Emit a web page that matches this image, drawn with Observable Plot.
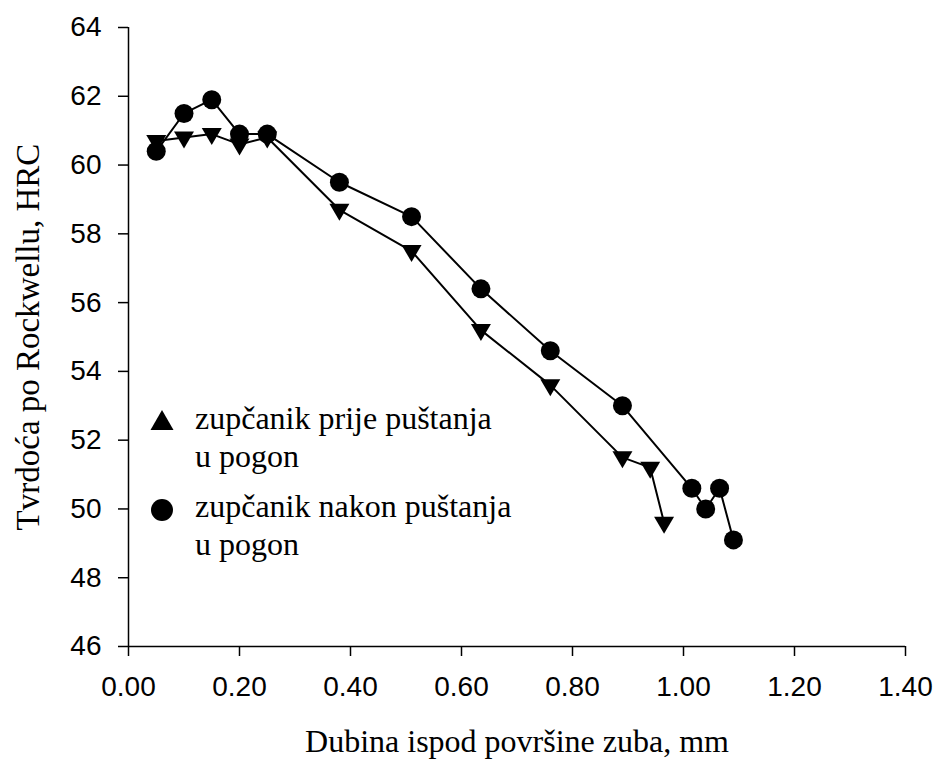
<!DOCTYPE html>
<html>
<head>
<meta charset="utf-8">
<script src="https://cdn.jsdelivr.net/npm/d3@7"></script>
<script src="https://cdn.jsdelivr.net/npm/@observablehq/plot@0.6"></script>
<style>
  html, body { margin: 0; padding: 0; background: #fff; }
  #wrap { position: relative; width: 933px; height: 762px; }
  .leg { position: absolute; font-family: "Liberation Serif", "Times New Roman", serif; font-size: 32px; line-height: 38px; color: #000; white-space: nowrap; }
  .sym { position: absolute; }
</style>
</head>
<body>
<div id="wrap"></div>
<script>
// Depth below tooth surface, mm (x) and Rockwell hardness, HRC (y)
const depthBefore = [0.05, 0.10, 0.15, 0.20, 0.25, 0.38, 0.51, 0.635, 0.76, 0.89, 0.94, 0.965];
const hrcBefore   = [60.7, 60.8, 60.9, 60.6, 60.8, 58.7, 57.5, 55.2, 53.6, 51.5, 51.2, 49.6];

const depthAfter = [0.05, 0.10, 0.15, 0.20, 0.25, 0.38, 0.51, 0.635, 0.76, 0.89, 1.015, 1.04, 1.065, 1.09];
const hrcAfter   = [60.4, 61.5, 61.9, 60.9, 60.9, 59.5, 58.5, 56.4, 54.6, 53.0, 50.6, 50.0, 50.6, 49.1];

const xTicks = [0, 0.2, 0.4, 0.6, 0.8, 1.0, 1.2, 1.4];
const yTicks = [46, 48, 50, 52, 54, 56, 58, 60, 62, 64];

const seriesNames = ["zupčanik prije puštanja u pogon", "zupčanik nakon puštanja u pogon"];
const xLabel = "Dubina ispod površine zuba, mm";
const yLabel = "Tvrdoća po Rockwellu, HRC";

const before = depthBefore.map((d, i) => ({x: d, y: hrcBefore[i]}));
const after = depthAfter.map((d, i) => ({x: d, y: hrcAfter[i]}));

// downward-pointing triangle symbol
const triangleDown = {
  draw(context, size) {
    const r = Math.sqrt(size / Math.PI);
    context.moveTo(-r, -0.6 * r);
    context.lineTo(r, -0.6 * r);
    context.lineTo(0, 1.1 * r);
    context.closePath();
  }
};

const serif = "'Liberation Serif', 'Times New Roman', serif";

const chart = Plot.plot({
  width: 933,
  height: 762,
  marginLeft: 128,
  marginRight: 28,
  marginTop: 27,
  marginBottom: 116,
  style: {fontFamily: "'Liberation Sans', Arial, sans-serif", fontSize: "28px", background: "#fff", color: "#000", overflow: "visible"},
  x: {domain: [0, 1.4]},
  y: {domain: [46, 64]},
  marks: [
    Plot.axisX({ticks: xTicks, tickFormat: d3.format(".2f"), tickSize: 10, tickPadding: 20, label: null, stroke: "#000", strokeWidth: 1.5}),
    Plot.axisY({ticks: yTicks, tickFormat: d3.format("d"), tickSize: 10, tickPadding: 17, label: null, stroke: "#000", strokeWidth: 1.5}),
    Plot.ruleX([0], {stroke: "#000", strokeWidth: 1.5}),
    Plot.ruleY([46], {stroke: "#000", strokeWidth: 1.5}),
    Plot.line(before, {x: "x", y: "y", stroke: "#000", strokeWidth: 2}),
    Plot.line(after, {x: "x", y: "y", stroke: "#000", strokeWidth: 2}),
    Plot.dot(before, {x: "x", y: "y", symbol: triangleDown, r: 10, fill: "#000", stroke: "none"}),
    Plot.dot(after, {x: "x", y: "y", symbol: "circle", r: 9.5, fill: "#000", stroke: "none"}),
    Plot.text([xLabel], {frameAnchor: "bottom", lineAnchor: "bottom", dy: 105, fontFamily: serif, fontSize: 32, fill: "#000"}),
    Plot.text([yLabel], {frameAnchor: "left", textAnchor: "middle", lineAnchor: "middle", dx: -100, rotate: -90, fontFamily: serif, fontSize: 33, fill: "#000"})
  ]
});

const wrap = document.getElementById("wrap");
wrap.appendChild(chart);

// legend overlay
function addLegend(symbol, lines, symX, symY, textX, textY) {
  const s = document.createElementNS("http://www.w3.org/2000/svg", "svg");
  s.setAttribute("class", "sym");
  s.setAttribute("width", 26);
  s.setAttribute("height", 26);
  s.style.left = (symX - 13) + "px";
  s.style.top = (symY - 13) + "px";
  const p = document.createElementNS("http://www.w3.org/2000/svg", "path");
  p.setAttribute("d", symbol === "circle" ? d3.symbol(d3.symbolCircle, 380)() : "M0,-10L11.5,10L-11.5,10Z");
  p.setAttribute("transform", "translate(13,13)");
  p.setAttribute("fill", "#000");
  s.appendChild(p);
  wrap.appendChild(s);
  const t = document.createElement("div");
  t.className = "leg";
  t.style.left = textX + "px";
  t.style.top = textY + "px";
  t.innerHTML = lines.join("<br>");
  wrap.appendChild(t);
}
addLegend("triangle", ["zupčanik prije puštanja", "u pogon"], 162, 420, 195, 399);
addLegend("circle", ["zupčanik nakon puštanja", "u pogon"], 162, 510, 195, 487);
</script>
</body>
</html>
